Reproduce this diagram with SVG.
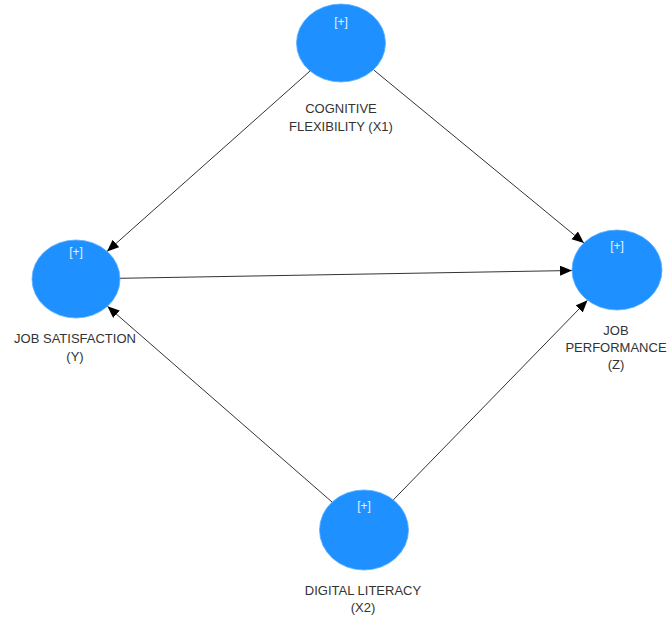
<svg xmlns="http://www.w3.org/2000/svg" width="668" height="617" viewBox="0 0 668 617">
<style>
.node{fill:#1e90ff;stroke:#5aaeff;stroke-width:0.8}
.plus{font-family:"Liberation Sans",Arial,sans-serif;font-size:12px;fill:#e6f2ff;text-anchor:middle}
.lbl{font-family:"Liberation Sans",Arial,sans-serif;font-size:13px;fill:#333;text-anchor:middle}
.edge{stroke:#333;stroke-width:1;fill:none;marker-end:url(#arr)}
</style>
<defs>
<marker id="arr" markerUnits="userSpaceOnUse" markerWidth="13" markerHeight="11" refX="12" refY="5" orient="auto">
<path d="M0,0 L12,5 L0,10 z" fill="#000"/>
</marker>
</defs>
<rect width="668" height="617" fill="#fff"/>
<g id="connectors">
<line class="edge" x1="310" y1="71" x2="107" y2="251.5"/>
<line class="edge" x1="373.4" y1="69.7" x2="584" y2="243"/>
<line class="edge" x1="120" y1="278.3" x2="572" y2="270.5"/>
<line class="edge" x1="332" y1="502" x2="107.4" y2="306.3"/>
<line class="edge" x1="393.3" y1="499.9" x2="587.5" y2="300.3"/>
</g>
<g id="X1">
<ellipse class="node" cx="341" cy="43" rx="44.5" ry="39"/>
<text class="plus" x="341" y="26">[+]</text>
<text class="lbl" x="341" y="113">COGNITIVE</text>
<text class="lbl" x="341" y="131">FLEXIBILITY (X1)</text>
</g>
<g id="Y">
<ellipse class="node" cx="76" cy="279" rx="44" ry="39"/>
<text class="plus" x="76" y="256">[+]</text>
<text class="lbl" x="75" y="343">JOB SATISFACTION</text>
<text class="lbl" x="75" y="361">(Y)</text>
</g>
<g id="Z">
<ellipse class="node" cx="617" cy="270" rx="45" ry="40"/>
<text class="plus" x="617" y="250">[+]</text>
<text class="lbl" x="616" y="335">JOB</text>
<text class="lbl" x="616" y="352">PERFORMANCE</text>
<text class="lbl" x="616" y="369">(Z)</text>
</g>
<g id="X2">
<ellipse class="node" cx="364" cy="530" rx="44.5" ry="40"/>
<text class="plus" x="364" y="510">[+]</text>
<text class="lbl" x="363" y="595">DIGITAL LITERACY</text>
<text class="lbl" x="363" y="612">(X2)</text>
</g>
</svg>
